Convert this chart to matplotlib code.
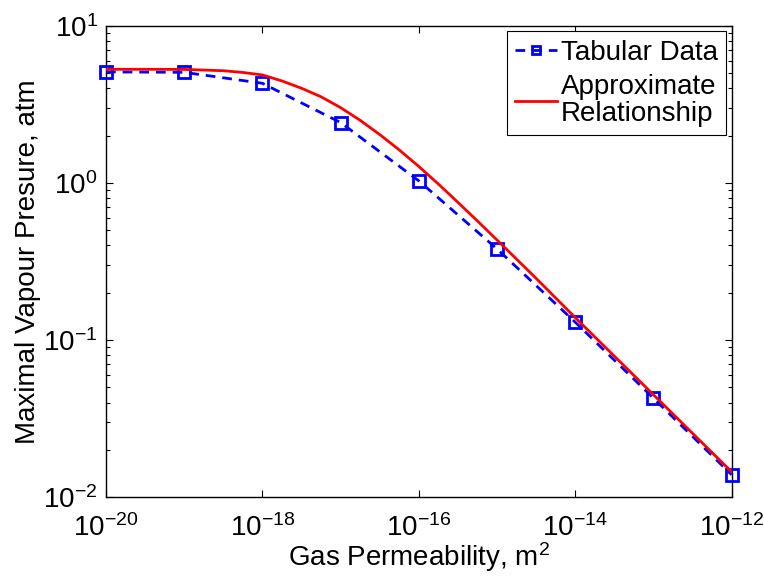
import matplotlib
matplotlib.use("Agg")
import matplotlib.pyplot as plt
from matplotlib.ticker import LogLocator, NullLocator

plt.rcParams['font.family'] = ['Liberation Sans', 'DejaVu Sans']
plt.rcParams['mathtext.fontset'] = 'custom'
plt.rcParams['mathtext.rm'] = 'Liberation Sans'
plt.rcParams['mathtext.it'] = 'Liberation Sans'

# tabular data
perm_tab = [1e-20, 1e-19, 1e-18, 1e-17, 1e-16, 1e-15, 1e-14, 1e-13, 1e-12]
pres_tab = [5.08, 5.05, 4.30, 2.42, 1.03, 0.38, 0.130, 0.0427, 0.0139]

# approximate relationship, read at quarter/half decades
perm_fit = [1e-20, 10**-19.5, 1e-19, 10**-18.5, 10**-18.25, 1e-18, 10**-17.75,
            10**-17.5, 10**-17.25, 1e-17, 10**-16.75, 10**-16.5, 10**-16.25,
            1e-16, 10**-15.75, 10**-15.5, 10**-15.25, 1e-15, 10**-14.5, 1e-14,
            10**-13.5, 1e-13, 10**-12.5, 1e-12]
pres_fit = [5.28, 5.28, 5.27, 5.17, 5.04, 4.86, 4.45,
            4.00, 3.53, 3.01, 2.50, 2.03, 1.62,
            1.272, 0.983, 0.752, 0.572, 0.433, 0.247, 0.139,
            0.0790, 0.0449, 0.0255, 0.0145]

fig = plt.figure(figsize=(7.64, 5.81), dpi=100)
ax = fig.add_axes([0.1387, 0.1441, 0.8190, 0.8117])

ax.plot(perm_tab, pres_tab, color='blue', linestyle='--', dashes=(3.5, 2.5), lw=2,
        marker='s', markersize=8.5, markerfacecolor='none', markeredgecolor='blue',
        markeredgewidth=2, label='Tabular Data', clip_on=False, zorder=3)
ax.plot(perm_fit, pres_fit, color='red', lw=2, label='Approximate\nRelationship',
        zorder=4)

ax.set_xscale('log')
ax.set_yscale('log')
ax.set_xlim(1e-20, 1e-12)
ax.set_ylim(1e-2, 1e1)
ax.set_xticks([1e-20, 1e-18, 1e-16, 1e-14, 1e-12])
ax.xaxis.set_minor_locator(NullLocator())
ax.yaxis.set_minor_locator(LogLocator(base=10, subs=range(2, 10), numticks=20))

ax.tick_params(which='both', direction='in', top=True, right=True, labelsize=20)
ax.tick_params(which='major', length=5, width=0.8)
ax.tick_params(which='minor', length=3, width=0.8)
ax.tick_params(axis='x', pad=12)
ax.tick_params(axis='y', pad=6)
for sp in ax.spines.values():
    sp.set_linewidth(1.0)

ax.set_xlabel('Gas Permeability, m$^2$', fontsize=20, labelpad=-1)
ax.set_ylabel('Maximal Vapour Presure, atm', fontsize=20, labelpad=2)

leg = ax.legend(loc='upper right', fontsize=20, frameon=True, fancybox=False,
                edgecolor='black', framealpha=1, borderaxespad=0.2,
                handlelength=1.5, handletextpad=0.15, borderpad=0.3,
                labelspacing=0.3, markerscale=0.6)
leg.get_frame().set_linewidth(0.8)
leg.get_texts()[1].set_linespacing(1.05)

fig.savefig('out.png', dpi=100)
